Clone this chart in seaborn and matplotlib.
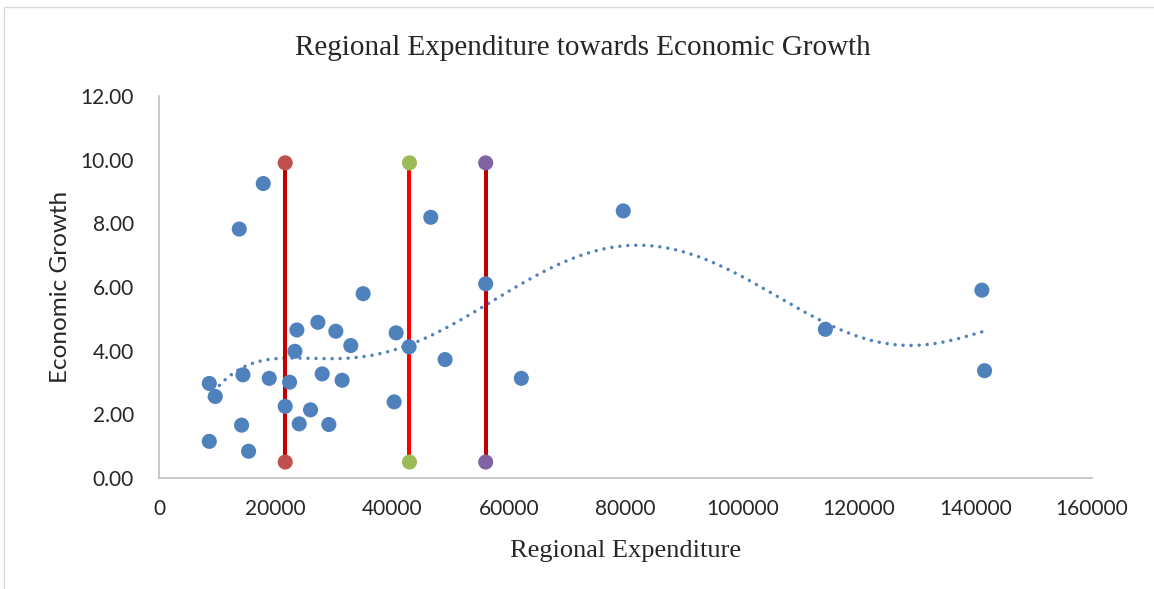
import numpy as np
import matplotlib.pyplot as plt
import pandas as pd
import seaborn as sns
from matplotlib.lines import Line2D

# points
expenditure = [17870, 13760, 8620, 9650, 14390, 18900, 22390, 23300, 23640, 27240,
               30320, 32890, 27980, 31400, 35000, 40660, 42890, 40320, 49060, 46600,
               56020, 21640, 25980, 24040, 29120, 14160, 8620, 15360, 62130, 79610,
               114270, 141110, 141570]
growth = [9.25, 7.82, 2.97, 2.56, 3.24, 3.13, 3.01, 3.98, 4.65, 4.89,
          4.61, 4.16, 3.27, 3.07, 5.79, 4.56, 4.12, 2.39, 3.72, 8.19,
          6.10, 2.25, 2.14, 1.70, 1.68, 1.66, 1.15, 0.84, 3.13, 8.39,
          4.67, 5.90, 3.37]

# vertical marker lines
line_x = [21640, 42950, 56020]
line_low = [0.5, 0.5, 0.5]
line_high = [9.9, 9.9, 9.9]
line_colors = ['#C00000', '#FF0000', '#C00000']
end_colors = ['#C0504D', '#9BBB59', '#8064A2']

df = pd.DataFrame({'x': expenditure, 'y': growth})

sns.set_style('white')
fig = plt.figure(figsize=(11.54, 5.89), dpi=100)
ax = fig.add_axes([0.1378, 0.1885, 0.8085, 0.6485])

# light chart border (top / left visible in the reference)
fig.add_artist(Line2D([4 / 1154, 1], [1 - 7 / 589, 1 - 7 / 589], color='#D9D9D9', lw=1))
fig.add_artist(Line2D([4 / 1154, 4 / 1154], [0, 1 - 7 / 589], color='#D9D9D9', lw=1))

for i in range(3):
    ax.vlines(line_x[i], line_low[i], line_high[i], color=line_colors[i], linewidth=2.9, zorder=2)

sns.scatterplot(data=df, x='x', y='y', s=118, color='#4F81BD', edgecolor='none', ax=ax, zorder=3)

ends = pd.DataFrame({'x': line_x + line_x, 'y': line_low + line_high,
                     'c': end_colors + end_colors})
for c in end_colors:
    sub = ends[ends['c'] == c]
    sns.scatterplot(data=sub, x='x', y='y', s=118, color=c, edgecolor='none', ax=ax, zorder=4)

# 6th order polynomial trend line, like Excel
coef = np.polyfit(df['x'], df['y'], 6)
xs = np.linspace(df['x'].min(), df['x'].max(), 400)
tr = pd.DataFrame({'x': xs, 'y': np.polyval(coef, xs)})
sns.lineplot(data=tr, x='x', y='y', color='#4F81BD', linewidth=2.5,
             dashes=False, ax=ax, zorder=1)
ax.lines[-1].set_linestyle((0, (0.01, 2.3)))
ax.lines[-1].set_dash_capstyle('round')

ax.set_xlim(0, 160000)
ax.set_ylim(0, 12)
ax.set_xticks(range(0, 160001, 20000))
ax.set_yticks(range(0, 13, 2))
ax.set_yticklabels([f'{v:.2f}' for v in range(0, 13, 2)])
ax.tick_params(labelsize=15, length=0)
ax.tick_params(axis='x', pad=15)
ax.tick_params(axis='y', pad=18)
for lab in ax.get_xticklabels() + ax.get_yticklabels():
    lab.set_fontfamily('Lato')
for s in ['top', 'right']:
    ax.spines[s].set_visible(False)
for s in ['left', 'bottom']:
    ax.spines[s].set_color('#BFBFBF')
    ax.spines[s].set_linewidth(1.2)

ax.set_xlabel('Regional Expenditure', fontsize=19, family='Liberation Serif', labelpad=15)
ax.set_ylabel('Economic Growth', fontsize=17.5, family='Lato', labelpad=7)
fig.suptitle('Regional Expenditure towards Economic Growth', fontsize=21,
             family='Liberation Serif', x=0.505, y=0.94)

fig.savefig('out.png', dpi=100)
